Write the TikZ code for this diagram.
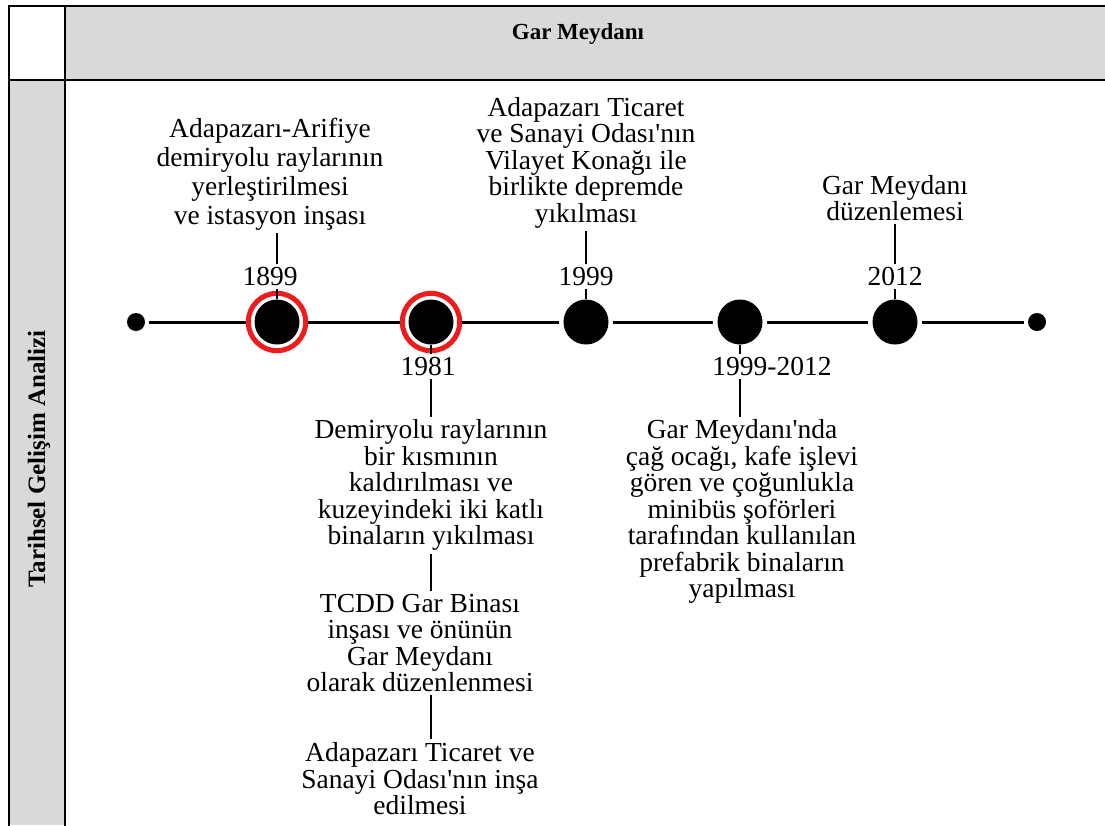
\documentclass[tikz,border=0pt]{standalone}
\usepackage{fontspec}
\newfontfamily\garfont{Liberation Serif}
\usetikzlibrary{positioning}
\definecolor{garcell}{HTML}{D9D9D9}
\definecolor{garring}{HTML}{EE1C1C}

\begin{document}
\begin{tikzpicture}[x=1pt, y=-1pt,
  grid/.style={line width=2.5pt, line cap=rect},
  dot/.style={circle, fill=black, inner sep=0pt, minimum size=18pt},
  event/.style={circle, fill=black, inner sep=0pt, minimum size=45pt},
  ring/.style={draw=garring, line width=5pt},
  year/.style={inner sep=3pt, font=\garfont\fontsize{27.5}{27}\selectfont},
  note/.style={inner sep=3pt, align=center, font=\garfont\fontsize{27.5}{26.5}\selectfont},
  tline/.style={line width=3pt, shorten <=4pt, shorten >=4pt},
  tick/.style={line width=2.5pt}
]
\useasboundingbox (0,0) rectangle (1105,825);
\fill[white] (0,0) rectangle (1105,825);
% table
\fill[garcell] (65,6) rectangle (1105,80);
\fill[garcell] (9,80) rectangle (65,825);
\draw[grid] (9,825) -- (9,6) -- (1105,6);
\draw[grid] (9,80) -- (1105,80);
\draw[grid] (65,6) -- (65,825);
\node[anchor=base, font=\garfont\bfseries\fontsize{23}{25}\selectfont] (title) at (578,39) {Gar Meydanı};
\node[anchor=base, rotate=90, font=\garfont\bfseries\fontsize{25}{27}\selectfont] (side) at (45,459) {Tarihsel Gelişim Analizi};

% timeline
\node[dot] (dL) at (136,322) {};
\node[event] (c1899) at (277,322) {};
\node[event] (c1981) at (431,322) {};
\node[event] (c1999) at (586,322) {};
\node[event] (c9912) at (740,322) {};
\node[event] (c2012) at (895,322) {};
\node[dot] (dR) at (1037,322) {};
\foreach \a/\b in {dL/c1899, c1899/c1981, c1981/c1999, c1999/c9912, c9912/c2012, c2012/dR}
  \draw[tline] (\a) -- (\b);
\foreach \e in {c1899, c1981}
  \draw[ring] (\e) circle[radius=28.7pt];

% above the line
\node[year, above=10pt of c1899, xshift=-7pt] (y1899) {1899};
\node[note, above=31pt of y1899, font=\garfont\fontsize{27.5}{29}\selectfont] (b1899) {Adapazarı-Arifiye\\demiryolu raylarının\\yerleştirilmesi\\ve istasyon inşası};
\node[year, above=10pt of c1999] (y1999) {1999};
\node[note, above=33pt of y1999] (b1999) {Adapazarı Ticaret\\ve Sanayi Odası'nın\\Vilayet Konağı ile\\birlikte depremde\\yıkılması};
\node[year, above=10pt of c2012] (y2012) {2012};
\node[note, above=40pt of y2012] (b2012) {Gar Meydanı\\düzenlemesi};

% below the line
\node[year, below=9pt of c1981, xshift=-3pt] (y1981) {1981};
\node[note, below=38pt of y1981, xshift=3pt] (b1981a) {Demiryolu raylarının\\bir kısmının\\kaldırılması ve\\kuzeyindeki iki katlı\\binaların yıkılması};
\node[note, below=37pt of b1981a, xshift=-11pt] (b1981b) {TCDD Gar Binası\\inşası ve önünün\\Gar Meydanı\\olarak düzenlenmesi};
\node[note, below=44pt of b1981b] (b1981c) {Adapazarı Ticaret ve\\Sanayi Odası'nın inşa\\edilmesi};
\node[year, below=9pt of c9912, xshift=32pt] (y9912) {1999-2012};
\node[note, below=38pt of y9912, xshift=-30pt] (b9912) {Gar Meydanı'nda\\çağ ocağı, kafe işlevi\\gören ve çoğunlukla\\minibüs şoförleri\\tarafından kullanılan\\prefabrik binaların\\yapılması};

% ticks
\draw[tick] (c1899.north) -- (c1899.north |- y1899.south);
\draw[tick] (y1899.north -| c1899) -- (b1899.south -| c1899);
\draw[tick] (c1999.north) -- (c1999.north |- y1999.south);
\draw[tick] (y1999.north -| c1999) -- (b1999.south -| c1999);
\draw[tick] (c2012.north) -- (c2012.north |- y2012.south);
\draw[tick] (y2012.north -| c2012) -- (b2012.south -| c2012);
\draw[tick] (c1981.south) -- (c1981.south |- y1981.north);
\draw[tick] (y1981.south -| c1981) -- (b1981a.north -| c1981);
\draw[tick] (b1981a.south -| c1981) -- (b1981b.north -| c1981);
\draw[tick] (b1981b.south -| c1981) -- (b1981c.north -| c1981);
\draw[tick] (c9912.south) -- (c9912.south |- y9912.north);
\draw[tick] (y9912.south -| c9912) -- (b9912.north -| c9912);
\end{tikzpicture}
\end{document}
